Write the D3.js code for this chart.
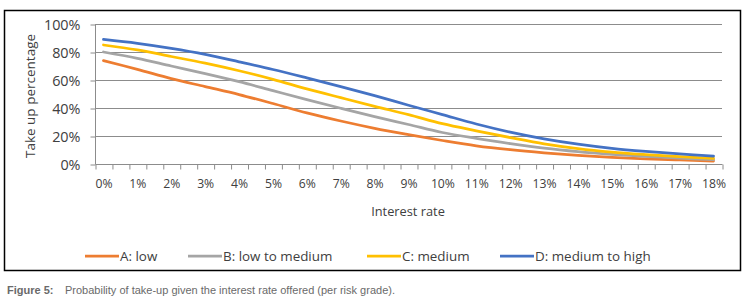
<!DOCTYPE html>
<html>
<head>
<meta charset="utf-8">
<script src="https://cdn.jsdelivr.net/npm/d3@7"></script>
<style>
  body { margin: 0; background: #fff; }
  svg { display: block; }
</style>
</head>
<body>
<svg id="chart" width="750" height="300"></svg>
<script>
// interest rate categories (%)
const rates = [0,1,2,3,4,5,6,7,8,9,10,11,12,13,14,15,16,17,18];
// take up percentage per risk grade
const gradeA = [73.8,67.6,61,55.3,49.6,43.2,36.5,30.7,25.5,21,16.8,13,10.2,8,6.2,4.8,3.7,2.9,2.1];
const gradeB = [80,75.5,70,64.6,58.8,52.4,46,39.8,33.8,28.2,22.5,18.3,14.6,11.3,8.8,6.9,5.4,4.2,3.1];
const gradeC = [85,81.5,76.8,72,66.6,60.5,53.7,47.4,41.2,35.3,28.8,23.7,18.9,14.4,11,8.5,6.7,5.2,4];
const gradeD = [89,86.2,82.6,78.3,73,67.5,61.5,55.3,48.8,42,35.3,28.6,22.8,18,14.2,11.2,9,7.2,5.6];
const seriesNames = ["A: low","B: low to medium","C: medium","D: medium to high"];
const seriesColors = ["#ED7D31","#A5A5A5","#FFC000","#4472C4"];
const yTicks = [0,20,40,60,80,100];

let svg = d3.select("#chart");
let font = "'Open Sans', sans-serif";

// outer frame
svg.append("rect")
    .attr("x", 4.5).attr("y", 10.5)
    .attr("width", 736).attr("height", 260)
    .attr("fill", "none").attr("stroke", "#000").attr("stroke-width", 1.5);

let xScale = d3.scaleLinear().domain([-0.25, 18.25]).range([95, 722]);
let yScale = d3.scaleLinear().domain([0, 100]).range([164, 24]);

// gridlines
svg.append("g")
    .selectAll("line")
    .data(yTicks.slice(1))
    .enter()
    .append("line")
    .attr("x1", 95).attr("x2", 722)
    .attr("y1", d => yScale(d) + 0.5).attr("y2", d => yScale(d) + 0.5)
    .attr("stroke", "#8c8c8c").attr("stroke-width", 1);

// y axis
let yAxis = d3.axisLeft(yScale).tickValues(yTicks).tickSize(5).tickPadding(10)
    .tickFormat(d => d + "%");
let gy = svg.append("g").attr("transform", "translate(95.5,0.5)").call(yAxis);
gy.select(".domain").attr("stroke", "#8c8c8c").attr("d", "M0," + yScale(100) + "V" + yScale(0));
gy.selectAll(".tick line").attr("stroke", "#8c8c8c");
gy.selectAll("text").attr("font-family", font).attr("font-size", 14.4).attr("fill", "#404040");

// x axis: tick marks between categories
let xBounds = d3.range(-0.25, 18.26, 0.5);
let xAxisTicks = d3.axisBottom(xScale).tickValues(xBounds).tickSize(5).tickFormat("");
let gx = svg.append("g").attr("transform", "translate(0.5,164.5)").call(xAxisTicks);
gx.selectAll("line").attr("stroke", "#8c8c8c");
gx.select(".domain").attr("stroke", "#8c8c8c").attr("d", "M95,0H722");

let xAxisLabels = d3.axisBottom(xScale).tickValues(rates).tickSize(0).tickPadding(15)
    .tickFormat(d => d + "%");
let gxl = svg.append("g").attr("transform", "translate(0,164)").call(xAxisLabels);
gxl.select(".domain").remove();
gxl.selectAll("text").attr("font-family", font).attr("font-size", 12.2).attr("fill", "#404040");

// axis titles
svg.append("text")
    .attr("transform", "translate(35,96) rotate(-90)")
    .attr("text-anchor", "middle")
    .attr("font-family", font).attr("font-size", 13.5).attr("fill", "#404040")
    .text("Take up percentage");
svg.append("text")
    .attr("x", 408).attr("y", 216)
    .attr("text-anchor", "middle")
    .attr("font-family", font).attr("font-size", 12.8).attr("fill", "#404040")
    .text("Interest rate");

// lines
let allSeries = [gradeA, gradeB, gradeC, gradeD];
let line = d3.line()
    .x((d, i) => xScale(rates[i]))
    .y(d => yScale(d))
    .curve(d3.curveCatmullRom);
svg.append("g")
    .selectAll("path")
    .data(allSeries)
    .enter()
    .append("path")
    .attr("d", d => line(d))
    .attr("fill", "none")
    .attr("stroke", (d, i) => seriesColors[i])
    .attr("stroke-width", 2.75)
    .attr("stroke-linecap", "round");

// legend
let legendX = [85, 188, 367, 500];
let lg = svg.append("g")
    .selectAll("g")
    .data(seriesNames)
    .enter()
    .append("g")
    .attr("transform", (d, i) => "translate(" + legendX[i] + ",256)");
lg.append("line")
    .attr("x1", 0).attr("x2", 34).attr("y1", 0).attr("y2", 0)
    .attr("stroke", (d, i) => seriesColors[i]).attr("stroke-width", 2.75);
lg.append("text")
    .attr("x", 35).attr("y", 5)
    .attr("font-family", font).attr("font-size", 13.4).attr("fill", "#404040")
    .text(d => d);

// caption
let cap = svg.append("text").attr("y", 294)
    .attr("font-family", "'Liberation Sans Narrow', 'Arial Narrow', sans-serif")
    .attr("font-size", 11).attr("fill", "#6a6a6a");
cap.append("tspan").attr("x", 7).attr("font-weight", "bold").text("Figure 5:");
cap.append("tspan").attr("x", 65).text("Probability of take-up given the interest rate offered (per risk grade).");
</script>
</body>
</html>
